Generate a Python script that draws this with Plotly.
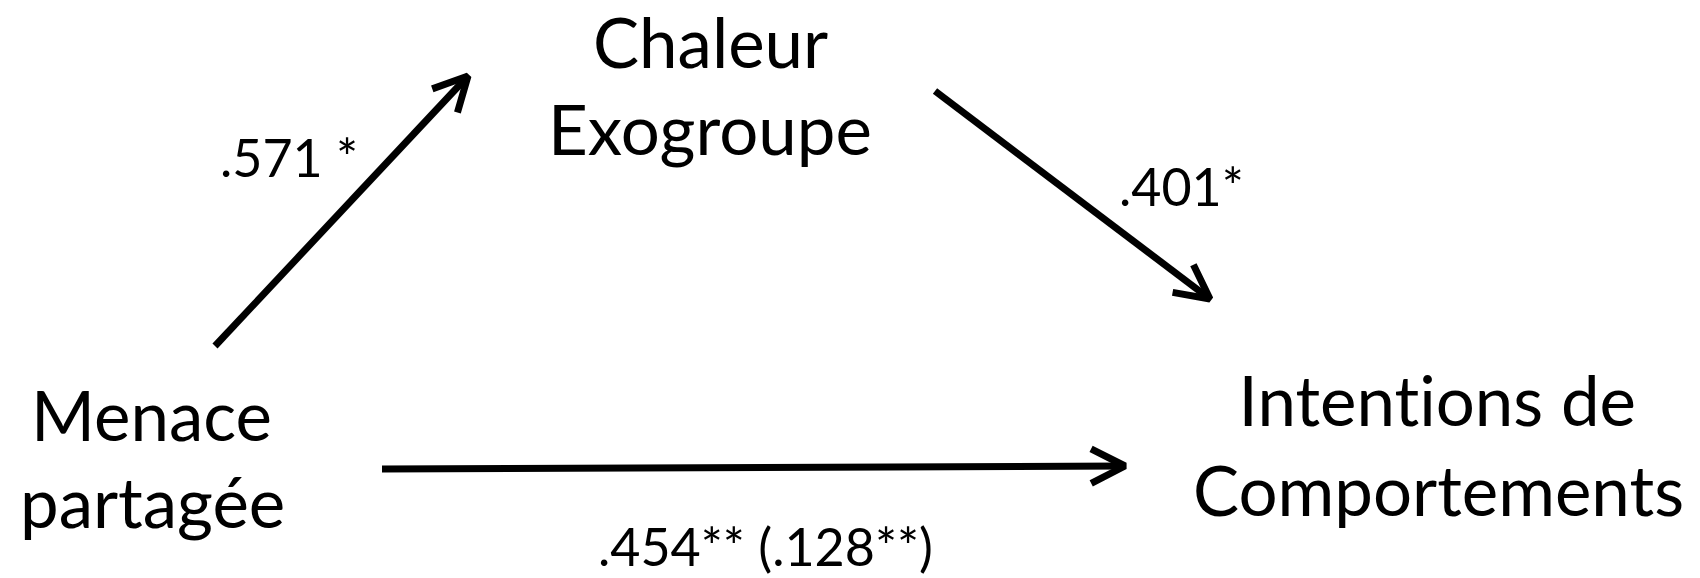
import math

import plotly.graph_objects as go

# mediation model: predictor -> mediator -> outcome
NODE_LINES = [
    ["Menace", "partagée"],
    ["Chaleur", "Exogroupe"],
    ["Intentions de", "Comportements"],
]
PATH_COEFS = [".571 *", ".401*", ".454** (.128**)"]

# diagram layout in page pixels (x to the right, y downward)
NODE_POS = [
    [(151, 414), (152, 501)],
    [(710, 41), (710, 128)],
    [(1437, 399), (1438, 489)],
]
COEF_POS = [(289, 157), (1181, 186), (765, 546)]
ARROWS = [
    ((215, 346), (468, 76)),
    ((935, 91), (1210, 299)),
    ((382, 469), (1125, 466)),
]

FONT = "Lato"
NODE_SIZE = 69
COEF_SIZE = 52
LINE_W = 7
HEAD_LEN = 38
HEAD_ANGLE = math.radians(27)

fig = go.Figure()

for (x0, y0), (x1, y1) in ARROWS:
    fig.add_trace(go.Scatter(x=[x0, x1], y=[y0, y1], mode="lines",
                             line=dict(color="black", width=LINE_W),
                             hoverinfo="skip", showlegend=False))
    back = math.atan2(y0 - y1, x0 - x1)
    arms = [(x1 + HEAD_LEN * math.cos(back + s * HEAD_ANGLE),
             y1 + HEAD_LEN * math.sin(back + s * HEAD_ANGLE)) for s in (1, -1)]
    fig.add_trace(go.Scatter(x=[arms[0][0], x1, arms[1][0]],
                             y=[arms[0][1], y1, arms[1][1]], mode="lines",
                             line=dict(color="black", width=LINE_W),
                             hoverinfo="skip", showlegend=False))

for lines, positions in zip(NODE_LINES, NODE_POS):
    for text, (x, y) in zip(lines, positions):
        fig.add_annotation(x=x, y=y, text=text, showarrow=False,
                           xanchor="center", yanchor="middle",
                           font=dict(family=FONT, size=NODE_SIZE, color="black"))

for text, (x, y) in zip(PATH_COEFS, COEF_POS):
    fig.add_annotation(x=x, y=y, text=text, showarrow=False,
                       xanchor="center", yanchor="middle",
                       font=dict(family=FONT, size=COEF_SIZE, color="black"))

fig.update_xaxes(range=[0, 1700], visible=False, fixedrange=True)
fig.update_yaxes(range=[578, 0], visible=False, fixedrange=True)
fig.update_layout(
    width=1700,
    height=578,
    margin=dict(t=0, b=0, l=0, r=0),
    plot_bgcolor="white",
    paper_bgcolor="white",
    showlegend=False,
)

# drop the browser's default body margin and Lato's "ti" ligature
page_css = (
    "var s = document.createElement('style');"
    "s.innerHTML = 'body{margin:0;overflow:hidden} "
    "text{font-variant-ligatures:none !important;"
    "font-feature-settings:\"liga\" 0, \"clig\" 0 !important}';"
    "document.head.appendChild(s);"
)
fig.write_html("out.html", post_script=page_css,
               config={"displayModeBar": False})
